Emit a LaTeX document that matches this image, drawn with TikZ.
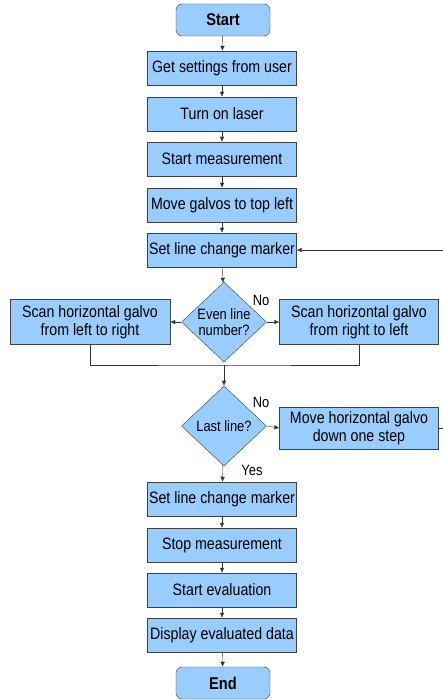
\documentclass[tikz,border=0pt]{standalone}
\usepackage{fontspec}
\setmainfont{Liberation Sans}[FakeStretch=0.86]
\usetikzlibrary{shapes.geometric,arrows.meta}

\definecolor{boxblue}{RGB}{153,204,255}

\tikzset{
  stepbox/.style={draw=black!75, fill=boxblue, minimum width=149pt, minimum height=34pt,
    inner sep=1pt, align=center, font=\fontsize{16.5}{18}\selectfont},
  endbox/.style={stepbox, rounded corners=6pt, minimum width=94pt, minimum height=32pt,
    font=\fontsize{17}{19}\selectfont\bfseries},
  decide/.style={diamond, draw=black!75, fill=boxblue, minimum width=85pt, minimum height=80pt,
    inner sep=0pt, align=center, font=\fontsize{15}{16}\selectfont},
  flow/.style={-{Latex[length=5pt,width=4.5pt]}, black!80},
  tag/.style={font=\fontsize{15}{17}\selectfont}
}

\begin{document}
\begin{tikzpicture}[x=1pt,y=-1pt]
  \useasboundingbox (0,0) rectangle (443,700);

  % MAIN COLUMN
  \node[endbox]  (start) at (223,20)  {Start};
  \node[stepbox] (get)   at (222,68)  {Get settings from user};
  \node[stepbox] (laser) at (222,114) {Turn on laser};
  \node[stepbox] (meas)  at (222,159) {Start measurement};
  \node[stepbox] (galvo) at (222,205) {Move galvos to top left};
  \node[stepbox] (mark)  at (222,250) {Set line change marker};

  % FIRST DECISION
  \node[decide]  (even)  at (224,322) {Even line\\number?};
  \node[stepbox, minimum width=160pt, minimum height=45pt] (scanl) at (90,322)
    {Scan horizontal galvo\\from left to right};
  \node[stepbox, minimum width=159pt, minimum height=45pt] (scanr) at (359,322)
    {Scan horizontal galvo\\from right to left};
  \coordinate (merge) at (224,365);

  % SECOND DECISION
  \node[decide]  (last)  at (224,426) {Last line?};
  \node[stepbox, minimum width=159pt, minimum height=42pt] (down) at (359,428)
    {Move horizontal galvo\\down one step};

  % LOWER COLUMN
  \node[stepbox] (mark2) at (222,499) {Set line change marker};
  \node[stepbox] (stop)  at (222,545) {Stop measurement};
  \node[stepbox] (eval)  at (222,590) {Start evaluation};
  \node[stepbox] (disp)  at (222,635) {Display evaluated data};
  \node[endbox]  (end)   at (223,683) {End};

  % ARROWS
  \draw[flow] (start) -- (get);
  \draw[flow] (get) -- (laser);
  \draw[flow] (laser) -- (meas);
  \draw[flow] (meas) -- (galvo);
  \draw[flow] (galvo) -- (mark);
  \draw[flow] (mark) -- (even);
  \draw[flow] (even.west) -- (scanl.east);
  \draw[flow] (even.east) -- (scanr.west);
  \draw[black!80] (scanl.south) |- (merge) -| (scanr.south);
  \draw[flow] (merge) -- (last);
  \draw[flow] (last.east) -- (down.west);
  \draw[flow] (down.east) -- ++(12,0) |- (mark.east);
  \draw[flow] (last) -- (mark2);
  \draw[flow] (mark2) -- (stop);
  \draw[flow] (stop) -- (eval);
  \draw[flow] (eval) -- (disp);
  \draw[flow] (disp) -- (end);

  % NOTES
  \node[tag] (no1)  at (261,300) {No};
  \node[tag] (no2)  at (261,402) {No};
  \node[tag] (yes)  at (252,470) {Yes};
\end{tikzpicture}
\end{document}
